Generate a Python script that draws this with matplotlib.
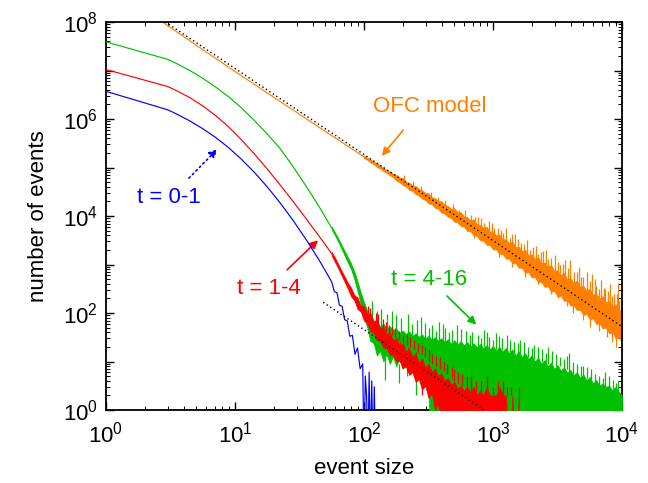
import numpy as np
import matplotlib
matplotlib.use("Agg")
import matplotlib.pyplot as plt
from matplotlib.ticker import FixedLocator, FuncFormatter, NullFormatter

plt.rcParams['font.family'] = ['Liberation Sans', 'DejaVu Sans']
plt.rcParams['mathtext.fontset'] = 'custom'
plt.rcParams['mathtext.rm'] = 'Liberation Sans'
plt.rcParams['mathtext.it'] = 'Liberation Sans:italic'

# all values are log10 of event size / number of events

# smooth parts of the curves
blue_lx = [0.0, 0.478, 0.55, 0.65, 0.75, 0.85, 0.95, 1.05, 1.15, 1.25,
           1.35, 1.45, 1.55, 1.65, 1.70]
blue_ly = [6.57, 6.19, 6.10, 5.96, 5.80, 5.62, 5.41, 5.17, 4.90, 4.60,
           4.27, 3.91, 3.52, 3.10, 2.87]
# noisy tail of t = 0-1
blue_tail_lx = [1.75, 1.77, 1.79, 1.81, 1.83, 1.85, 1.87, 1.89, 1.91, 1.93, 1.95,
                1.97, 1.99, 2.00, 2.01, 2.02, 2.03, 2.04, 2.05, 2.06, 2.07, 2.08, 2.09]
blue_tail_ly = [2.64, 2.44, 2.42, 2.16, 2.14, 1.86, 1.84, 1.52, 1.54, 1.15, 1.28,
                0.85, 0.95, -1.0, 0.70, 0.30, -1.0, 0.78, -1.0, 0.60, -1.0, 0.48, -1.0]

red_lx = [0.0, 0.478, 0.55, 0.65, 0.75, 0.85, 0.95, 1.05, 1.15, 1.25,
          1.35, 1.45, 1.55, 1.65, 1.70, 1.75]
red_ly = [7.02, 6.67, 6.58, 6.44, 6.27, 6.07, 5.84, 5.57, 5.28, 4.97,
          4.64, 4.30, 3.95, 3.59, 3.41, 3.22]

green_lx = [0.0, 0.478, 0.55, 0.65, 0.75, 0.85, 0.95, 1.05, 1.15, 1.25,
            1.35, 1.45, 1.55, 1.65, 1.75]
green_ly = [7.59, 7.23, 7.14, 7.00, 6.84, 6.66, 6.46, 6.23, 5.97, 5.69,
            5.39, 5.02, 4.62, 4.20, 3.75]

orange_lx = [0.40, 0.70, 1.0, 1.3, 1.6, 2.0]
orange_ly = [8.07, 7.52, 6.98, 6.45, 5.92, 5.22]

# noisy parts: shared grid of event sizes
noise_lx = [1.750, 1.775, 1.800, 1.825, 1.850, 1.875, 1.900, 1.925, 1.950, 1.975,
            2.000, 2.025, 2.050, 2.075, 2.100, 2.125, 2.150, 2.175, 2.200, 2.225,
            2.250, 2.275, 2.300, 2.325, 2.350, 2.375, 2.400, 2.425, 2.450, 2.475,
            2.500, 2.525, 2.550, 2.575, 2.600, 2.625, 2.650, 2.675, 2.700, 2.725,
            2.750, 2.775, 2.800, 2.825, 2.850, 2.875, 2.900, 2.925, 2.950, 2.975,
            3.000, 3.025, 3.050, 3.075, 3.100, 3.125, 3.150, 3.175, 3.200, 3.225,
            3.250, 3.275, 3.300, 3.325, 3.350, 3.375, 3.400, 3.425, 3.450, 3.475,
            3.500, 3.525, 3.550, 3.575, 3.600, 3.625, 3.650, 3.675, 3.700, 3.725,
            3.750, 3.775, 3.800, 3.825, 3.850, 3.875, 3.900, 3.925, 3.950, 3.975,
            4.000]

# ragged upper / lower edge of each noisy band
red_hi = [3.26, 3.14, 3.01, 2.88, 2.75, 2.62, 2.52, 2.37, 2.32, 2.15, 2.14,
          1.96, 2.00, 1.82, 1.87, 1.68, 1.73, 1.56, 1.60, 1.43, 1.49,
          1.32, 1.38, 1.20, 1.27, 1.10, 1.16, 0.98, 1.06, 0.88, 0.96,
          0.78, 0.86, 0.70, 0.76, 0.60, 0.66, 0.52, 0.58, 0.45, 0.50,
          0.40, 0.48, 0.36, 0.48, 0.30, 0.40, 0.30, 0.48, 0.30, 0.30,
          0.30, 0.48, 0.30, 0.30, -1.0, 0.30, -1.0, 0.30]
red_lo = [3.18, 3.05, 2.92, 2.78, 2.64, 2.50, 2.34, 2.26, 2.08, 2.03, 1.84,
          1.80, 1.62, 1.60, 1.44, 1.43, 1.28, 1.28, 1.14, 1.14, 1.00,
          1.02, 0.86, 0.90, 0.72, 0.78, 0.58, 0.64, 0.42, 0.50, 0.25,
          0.35, 0.00, 0.15, -1.0, -1.0, -1.0, -1.0, -1.0, -1.0, -1.0,
          -1.0, -1.0, -1.0, -1.0, -1.0, -1.0, -1.0, -1.0, -1.0, -1.0,
          -1.0, -1.0, -1.0, -1.0, -1.0, -1.0, -1.0, -1.0]

green_hi = [3.78, 3.66, 3.54, 3.41, 3.28, 3.15, 3.02, 2.86, 2.65, 2.42, 2.22,
            2.05, 1.94, 1.84, 1.80, 1.73, 1.78, 1.69, 1.72, 1.65, 1.68,
            1.59, 1.64, 1.57, 1.62, 1.53, 1.58, 1.51, 1.56, 1.47, 1.53,
            1.45, 1.50, 1.43, 1.48, 1.40, 1.46, 1.37, 1.44, 1.35, 1.42,
            1.33, 1.40, 1.31, 1.38, 1.29, 1.36, 1.27, 1.34, 1.25, 1.32,
            1.23, 1.30, 1.21, 1.28, 1.17, 1.25, 1.13, 1.21, 1.09, 1.17,
            1.05, 1.13, 1.00, 1.08, 0.95, 1.03, 0.90, 0.98, 0.85, 0.93,
            0.81, 0.88, 0.77, 0.83, 0.72, 0.78, 0.67, 0.73, 0.62, 0.68,
            0.55, 0.62, 0.50, 0.55, 0.48, 0.50, 0.40, 0.48, 0.38, 0.30]
green_lo = [3.72, 3.60, 3.47, 3.33, 3.18, 3.04, 2.90, 2.70, 2.45, 2.18, 1.90,
            1.70, 1.42, 1.38, 1.12, 1.22, 1.00, 1.15, 0.95, 1.10, 0.90,
            1.05, 0.85, 1.00, 0.78, 0.95, 0.70, 0.85, 0.48, 0.70, 0.30,
            -1.0, -1.0, -1.0, -1.0, -1.0, -1.0, -1.0, -1.0, -1.0, -1.0,
            -1.0, -1.0, -1.0, -1.0, -1.0, -1.0, -1.0, -1.0, -1.0, -1.0,
            -1.0, -1.0, -1.0, -1.0, -1.0, -1.0, -1.0, -1.0, -1.0, -1.0,
            -1.0, -1.0, -1.0, -1.0, -1.0, -1.0, -1.0, -1.0, -1.0, -1.0,
            -1.0, -1.0, -1.0, -1.0, -1.0, -1.0, -1.0, -1.0, -1.0, -1.0,
            -1.0, -1.0, -1.0, -1.0, -1.0, -1.0, -1.0, -1.0, -1.0, -1.0]

# orange band starts at grid index 10 (event size 100)
orange_hi = [5.25, 5.20, 5.17, 5.12, 5.09, 5.04, 5.00, 4.95, 4.92, 4.87,
             4.85, 4.79, 4.78, 4.71, 4.69, 4.63, 4.62, 4.56, 4.53, 4.48,
             4.47, 4.39, 4.37, 4.31, 4.31, 4.23, 4.21, 4.15, 4.16, 4.08,
             4.08, 3.99, 3.98, 3.91, 3.93, 3.83, 3.82, 3.76, 3.78, 3.68,
             3.68, 3.60, 3.62, 3.52, 3.52, 3.44, 3.47, 3.36, 3.36, 3.28,
             3.30, 3.19, 3.21, 3.12, 3.15, 3.03, 3.04, 2.95, 2.99, 2.87,
             2.88, 2.78, 2.83, 2.70, 2.72, 2.62, 2.67, 2.54, 2.56, 2.46,
             2.50, 2.38, 2.40, 2.30, 2.35, 2.22, 2.24, 2.14, 2.18, 2.05,
             2.07]
orange_lo = [5.19, 5.16, 5.10, 5.07, 5.01, 4.98, 4.93, 4.89, 4.84, 4.80,
             4.73, 4.70, 4.64, 4.61, 4.54, 4.52, 4.45, 4.42, 4.36, 4.33,
             4.26, 4.24, 4.17, 4.15, 4.07, 4.05, 3.98, 3.96, 3.88, 3.87,
             3.79, 3.78, 3.69, 3.68, 3.60, 3.59, 3.50, 3.49, 3.41, 3.40,
             3.31, 3.31, 3.22, 3.22, 3.12, 3.12, 3.03, 3.03, 2.93, 2.93,
             2.83, 2.84, 2.73, 2.74, 2.63, 2.64, 2.54, 2.55, 2.44, 2.45,
             2.34, 2.36, 2.25, 2.26, 2.15, 2.16, 2.06, 2.07, 1.96, 1.98,
             1.87, 1.89, 1.77, 1.79, 1.68, 1.70, 1.58, 1.60, 1.48, 1.50,
             1.38]

# single spikes sticking out of the bands: position, start, end
orange_spk_lx = [2.31, 2.38, 2.44, 2.52, 2.57, 2.63, 2.69, 2.74, 2.78, 2.83,
                 2.88, 2.93, 2.97, 3.01, 3.06, 3.10, 3.13, 3.17, 3.22, 3.26,
                 3.29, 3.33, 3.37, 3.41, 3.45, 3.48, 3.52, 3.56, 3.60, 3.63,
                 3.67, 3.70, 3.73, 3.77, 3.80, 3.84, 3.87, 3.91, 3.94, 3.97,
                 3.99, 2.86, 2.91, 2.99, 3.04, 3.08, 3.15, 3.19, 3.24, 3.31,
                 3.35, 3.39, 3.43, 3.50, 3.54, 3.58, 3.65, 3.68, 3.75, 3.79,
                 3.82, 3.86, 3.89, 3.92, 3.96, 3.98,
                 2.95, 3.15, 3.35, 3.50, 3.62, 3.75, 3.88, 3.95,
                 2.85, 3.05, 3.25, 3.45, 3.57, 3.70, 3.82, 3.92]
orange_spk_from = [4.68, 4.56, 4.45, 4.32, 4.23, 4.12, 4.02, 3.93, 3.86, 3.78,
                   3.69, 3.60, 3.53, 3.46, 3.38, 3.31, 3.25, 3.18, 3.10, 3.03,
                   2.98, 2.91, 2.84, 2.77, 2.70, 2.65, 2.58, 2.51, 2.44, 2.38,
                   2.31, 2.26, 2.21, 2.14, 2.09, 2.02, 1.97, 1.90, 1.84, 1.79,
                   1.76, 3.72, 3.64, 3.50, 3.41, 3.34, 3.22, 3.15, 3.06, 2.94,
                   2.87, 2.80, 2.73, 2.61, 2.54, 2.47, 2.35, 2.30, 2.18, 2.11,
                   2.05, 1.98, 1.93, 1.88, 1.81, 1.78,
                   3.57, 3.22, 2.87, 2.61, 2.40, 2.18, 1.95, 1.83,
                   3.74, 3.39, 3.05, 2.70, 2.49, 2.26, 2.05, 1.88]
orange_spk_to = [4.85, 4.72, 4.62, 4.50, 4.40, 4.32, 4.24, 4.12, 4.13, 4.02,
                 3.98, 3.86, 3.90, 3.76, 3.72, 3.75, 3.55, 3.62, 3.45, 3.50,
                 3.30, 3.38, 3.25, 3.30, 3.14, 3.20, 3.00, 3.10, 3.09, 2.85,
                 2.95, 2.75, 2.85, 2.80, 2.55, 2.68, 2.50, 2.60, 2.40, 2.62,
                 2.30, 3.98, 3.95, 3.85, 3.75, 3.64, 3.62, 3.52, 3.42, 3.36,
                 3.22, 3.28, 3.12, 3.05, 3.02, 2.92, 2.85, 2.75, 2.66, 2.70,
                 2.50, 2.52, 2.45, 2.35, 2.40, 2.25,
                 3.40, 2.95, 2.60, 2.30, 2.00, 1.72, 1.50, 1.30,
                 3.55, 3.15, 2.75, 2.40, 2.15, 1.85, 1.62, 1.40]

green_spk_lx = [2.06, 2.13, 2.18, 2.22, 2.29, 2.34, 2.41, 2.47, 2.53, 2.58,
                2.63, 2.68, 2.72, 2.79, 2.84, 2.88, 2.93, 2.97, 3.02, 3.07,
                3.11, 3.16, 3.21, 3.27, 3.32, 3.38, 3.43, 3.49, 3.55, 3.59,
                3.65, 3.70, 3.76, 3.82, 3.87, 3.93, 3.97,
                2.10, 2.25, 2.37, 2.44, 2.50, 2.56, 2.61, 2.66, 2.75, 2.82,
                2.91, 2.95, 3.00, 3.05, 3.13, 3.19, 3.24, 3.30, 3.35, 3.41,
                3.46, 3.52, 3.57, 3.62, 3.68, 3.73, 3.79, 3.85, 3.90, 3.95,
                2.16, 2.27, 2.33, 2.40]
green_spk_from = [1.90, 1.70, 1.65, 1.60, 1.55, 1.55, 1.50, 1.45, 1.45, 1.40,
                  1.40, 1.40, 1.35, 1.35, 1.30, 1.30, 1.30, 1.25, 1.25, 1.25,
                  1.20, 1.20, 1.15, 1.10, 1.05, 1.00, 0.95, 0.90, 0.85, 0.80,
                  0.70, 0.65, 0.60, 0.50, 0.45, 0.40, 0.30,
                  1.75, 1.60, 1.50, 1.45, 1.40, 1.40, 1.40, 1.35, 1.35, 1.30,
                  1.30, 1.25, 1.25, 1.20, 1.20, 1.15, 1.10, 1.05, 1.00, 1.00,
                  0.95, 0.90, 0.85, 0.75, 0.70, 0.65, 0.55, 0.50, 0.45, 0.35,
                  1.10, 0.95, 0.90, 0.80]
green_spk_to = [2.25, 2.08, 1.98, 2.05, 1.90, 1.98, 1.85, 1.80, 1.75, 1.82,
                1.70, 1.65, 1.75, 1.62, 1.60, 1.55, 1.65, 1.50, 1.58, 1.48,
                1.55, 1.40, 1.45, 1.30, 1.35, 1.25, 1.30, 1.15, 1.05, 1.18,
                0.95, 0.90, 0.85, 0.70, 0.78, 0.62, 0.60,
                2.05, 1.95, 1.78, 1.92, 1.70, 1.62, 1.78, 1.60, 1.68, 1.55,
                1.48, 1.60, 1.45, 1.52, 1.45, 1.38, 1.40, 1.28, 1.30, 1.18,
                1.22, 1.10, 1.12, 1.00, 0.90, 0.88, 0.75, 0.65, 0.70, 0.55,
                0.62, 0.55, 0.70, 0.30]

red_spk_lx = [2.03, 2.09, 2.15, 2.19, 2.24, 2.30, 2.36, 2.42, 2.47, 2.53,
              2.59, 2.64, 2.70, 2.76, 2.83, 2.87, 2.95, 3.00, 3.08, 3.14, 3.20,
              2.05, 2.11, 2.17, 2.22, 2.27, 2.33, 2.39, 2.45, 2.50, 2.56,
              2.62, 2.68, 2.73, 2.80, 2.91, 3.04, 3.11,
              2.06, 2.13, 2.21, 2.28, 2.34, 2.40, 2.45]
red_spk_from = [1.95, 1.80, 1.65, 1.58, 1.50, 1.40, 1.30, 1.20, 1.10, 0.95,
                0.85, 0.75, 0.60, 0.50, 0.40, 0.30, 0.30, 0.30, 0.30, 0.30, 0.30,
                1.90, 1.75, 1.62, 1.55, 1.45, 1.35, 1.25, 1.15, 1.00, 0.90,
                0.80, 0.65, 0.55, 0.45, 0.30, 0.30, 0.30,
                1.90, 1.70, 1.55, 1.40, 1.30, 1.20, 1.05]
red_spk_to = [2.15, 2.00, 1.88, 1.75, 1.70, 1.55, 1.50, 1.38, 1.30, 1.15,
              1.10, 0.95, 0.85, 0.75, 0.70, 0.60, 0.70, 0.48, 0.60, 0.48, 0.48,
              2.10, 1.98, 1.82, 1.74, 1.62, 1.55, 1.45, 1.35, 1.25, 1.12,
              1.00, 0.88, 0.78, 0.70, 0.60, 0.60, 0.48,
              1.60, 1.40, 1.15, 1.00, 0.80, 0.60, 0.30]

# power-law guides (dotted)
fit1_lx = [0.46, 4.0]
fit1_ly = [8.0, 1.72]
fit2_lx = [1.684, 2.93]
fit2_ly = [2.22, 0.0]

ORANGE = '#ff8000'
GREEN = '#00c000'
RED = '#ff0000'
BLUE = '#0000ff'
LW = 0.85


def p(v):
    return 10.0 ** np.asarray(v)


def band(ax, lo, hi, spk_lx, spk_from, spk_to, color, z, start=0):
    x = p(noise_lx[start:start + len(hi)])
    ax.fill_between(x, p(lo), p(hi), color=color, lw=0.5, zorder=z)
    ax.vlines(p(spk_lx), p(spk_from), p(spk_to), color=color, lw=0.9, zorder=z)


fig = plt.figure(figsize=(6.48, 4.83), dpi=100)
ax = fig.add_axes([106 / 648, 73 / 483, 516 / 648, 388 / 483])
ax.set_xscale('log')
ax.set_yscale('log')

# OFC model
ax.plot(p(orange_lx), p(orange_ly), color=ORANGE, lw=LW, zorder=2)
band(ax, orange_lo, orange_hi, orange_spk_lx, orange_spk_from, orange_spk_to,
     ORANGE, 2, start=10)

# t = 4-16
ax.plot(p(green_lx), p(green_ly), color=GREEN, lw=LW, zorder=3)
band(ax, green_lo, green_hi, green_spk_lx, green_spk_from, green_spk_to, GREEN, 3)

# t = 1-4
ax.plot(p(red_lx), p(red_ly), color=RED, lw=LW, zorder=4)
band(ax, red_lo, red_hi, red_spk_lx, red_spk_from, red_spk_to, RED, 4)

# t = 0-1
ax.plot(p(blue_lx + blue_tail_lx), p(blue_ly + blue_tail_ly), color=BLUE, lw=LW, zorder=5)

ax.plot(p(fit1_lx), p(fit1_ly), color='black', lw=1.0, ls=(0, (1, 2)), zorder=6)
ax.plot(p(fit2_lx), p(fit2_ly), color='black', lw=1.0, ls=(0, (1, 2)), zorder=6)

# annotations
fs = 16
ax.text(p(2.51), p(6.25), 'OFC model', color=ORANGE, fontsize=fs, ha='center', va='center')
ax.annotate('', xy=(p(2.124), p(5.196)), xytext=(p(2.318), p(5.814)),
            arrowprops=dict(arrowstyle='-|>', color=ORANGE, lw=1.2, mutation_scale=12))

ax.text(p(0.488), p(4.39), 't = 0-1', color=BLUE, fontsize=fs, ha='center', va='center')
ax.annotate('', xy=(p(0.878), p(5.42)), xytext=(p(0.628), p(4.74)),
            arrowprops=dict(arrowstyle='-|>', color=BLUE, lw=1.2, ls=(0, (1, 2)),
                            mutation_scale=12))

ax.text(p(1.264), p(2.515), 't = 1-4', color=RED, fontsize=fs, ha='center', va='center')
ax.annotate('', xy=(p(1.659), p(3.54)), xytext=(p(1.388), p(2.85)),
            arrowprops=dict(arrowstyle='-|>', color=RED, lw=1.2, mutation_scale=12))

ax.text(p(2.504), p(2.70), 't = 4-16', color=GREEN, fontsize=fs, ha='center', va='center')
ax.annotate('', xy=(p(2.886), p(1.72)), xytext=(p(2.628), p(2.39)),
            arrowprops=dict(arrowstyle='-|>', color=GREEN, lw=1.2, mutation_scale=12))

# axes
ax.set_xlim(1, 1e4)
ax.set_ylim(1, 1e8)

x_major = [1, 10, 100, 1000, 10000]
y_major = [10.0 ** k for k in range(9)]
subs = [2, 3, 4, 5, 6, 7, 8, 9]
ax.xaxis.set_major_locator(FixedLocator(x_major))
ax.xaxis.set_minor_locator(FixedLocator([s * d for d in x_major[:-1] for s in subs]))
ax.yaxis.set_major_locator(FixedLocator(y_major))
ax.yaxis.set_minor_locator(FixedLocator([s * d for d in y_major[:-1] for s in subs]))
ax.xaxis.set_major_formatter(FuncFormatter(lambda v, pos: r'$10^{%d}$' % round(np.log10(v))))


def ylab(v, pos):
    k = int(round(np.log10(v)))
    return r'$10^{%d}$' % k if k % 2 == 0 else ''


ax.yaxis.set_major_formatter(FuncFormatter(ylab))
ax.xaxis.set_minor_formatter(NullFormatter())
ax.yaxis.set_minor_formatter(NullFormatter())

ax.tick_params(which='both', direction='in', top=True, right=True, labelsize=16)
ax.tick_params(which='major', length=6, width=1.0)
ax.tick_params(which='minor', length=3, width=0.7)
ax.tick_params(axis='x', pad=8)
ax.tick_params(axis='y', pad=6)
for s in ax.spines.values():
    s.set_linewidth(1.3)

ax.set_xlabel('event size', fontsize=16, labelpad=8)
ax.set_ylabel('number of events', fontsize=16, labelpad=10)

fig.savefig('out.png', dpi=100)
